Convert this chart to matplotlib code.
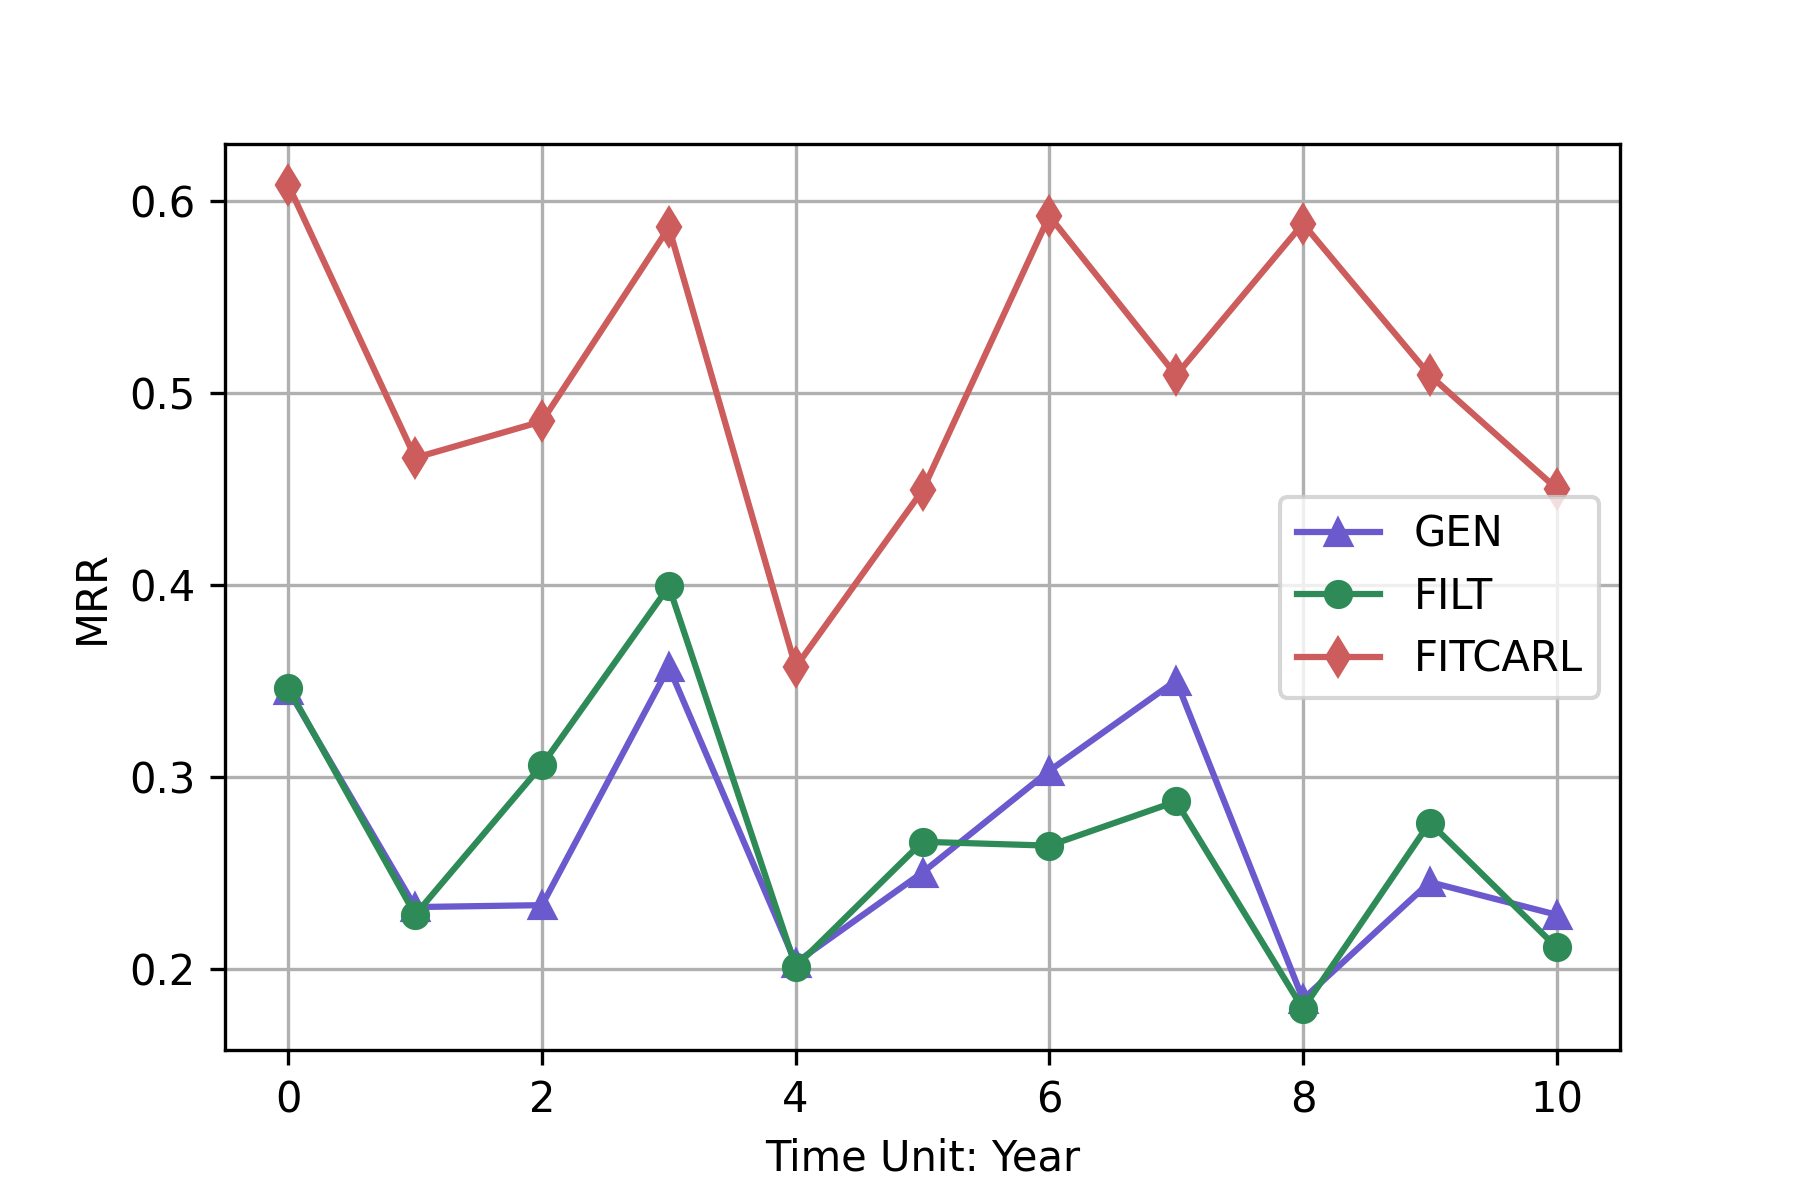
import matplotlib
matplotlib.use("Agg")
import matplotlib.pyplot as plt

years = list(range(11))
gen = [0.345, 0.232, 0.233, 0.357, 0.203, 0.250, 0.303, 0.350, 0.184, 0.245, 0.228]
filt = [0.346, 0.228, 0.306, 0.399, 0.201, 0.266, 0.264, 0.287, 0.179, 0.276, 0.211]
fitcarl = [0.608, 0.466, 0.485, 0.586, 0.357, 0.449, 0.592, 0.509, 0.588, 0.509, 0.450]

fig, ax = plt.subplots(figsize=(6, 4), dpi=300)
fig.subplots_adjust(left=0.125, right=0.9, top=0.88, bottom=0.125)
ax.plot(years, gen, marker='^', color='slateblue', label='GEN')
ax.plot(years, filt, marker='o', color='seagreen', label='FILT')
ax.plot(years, fitcarl, marker='d', color='indianred', label='FITCARL')
ax.grid(True)
ax.set_xlabel('Time Unit: Year')
ax.set_ylabel('MRR')
ax.legend(loc='center right')
fig.savefig('out.png', dpi=300)
